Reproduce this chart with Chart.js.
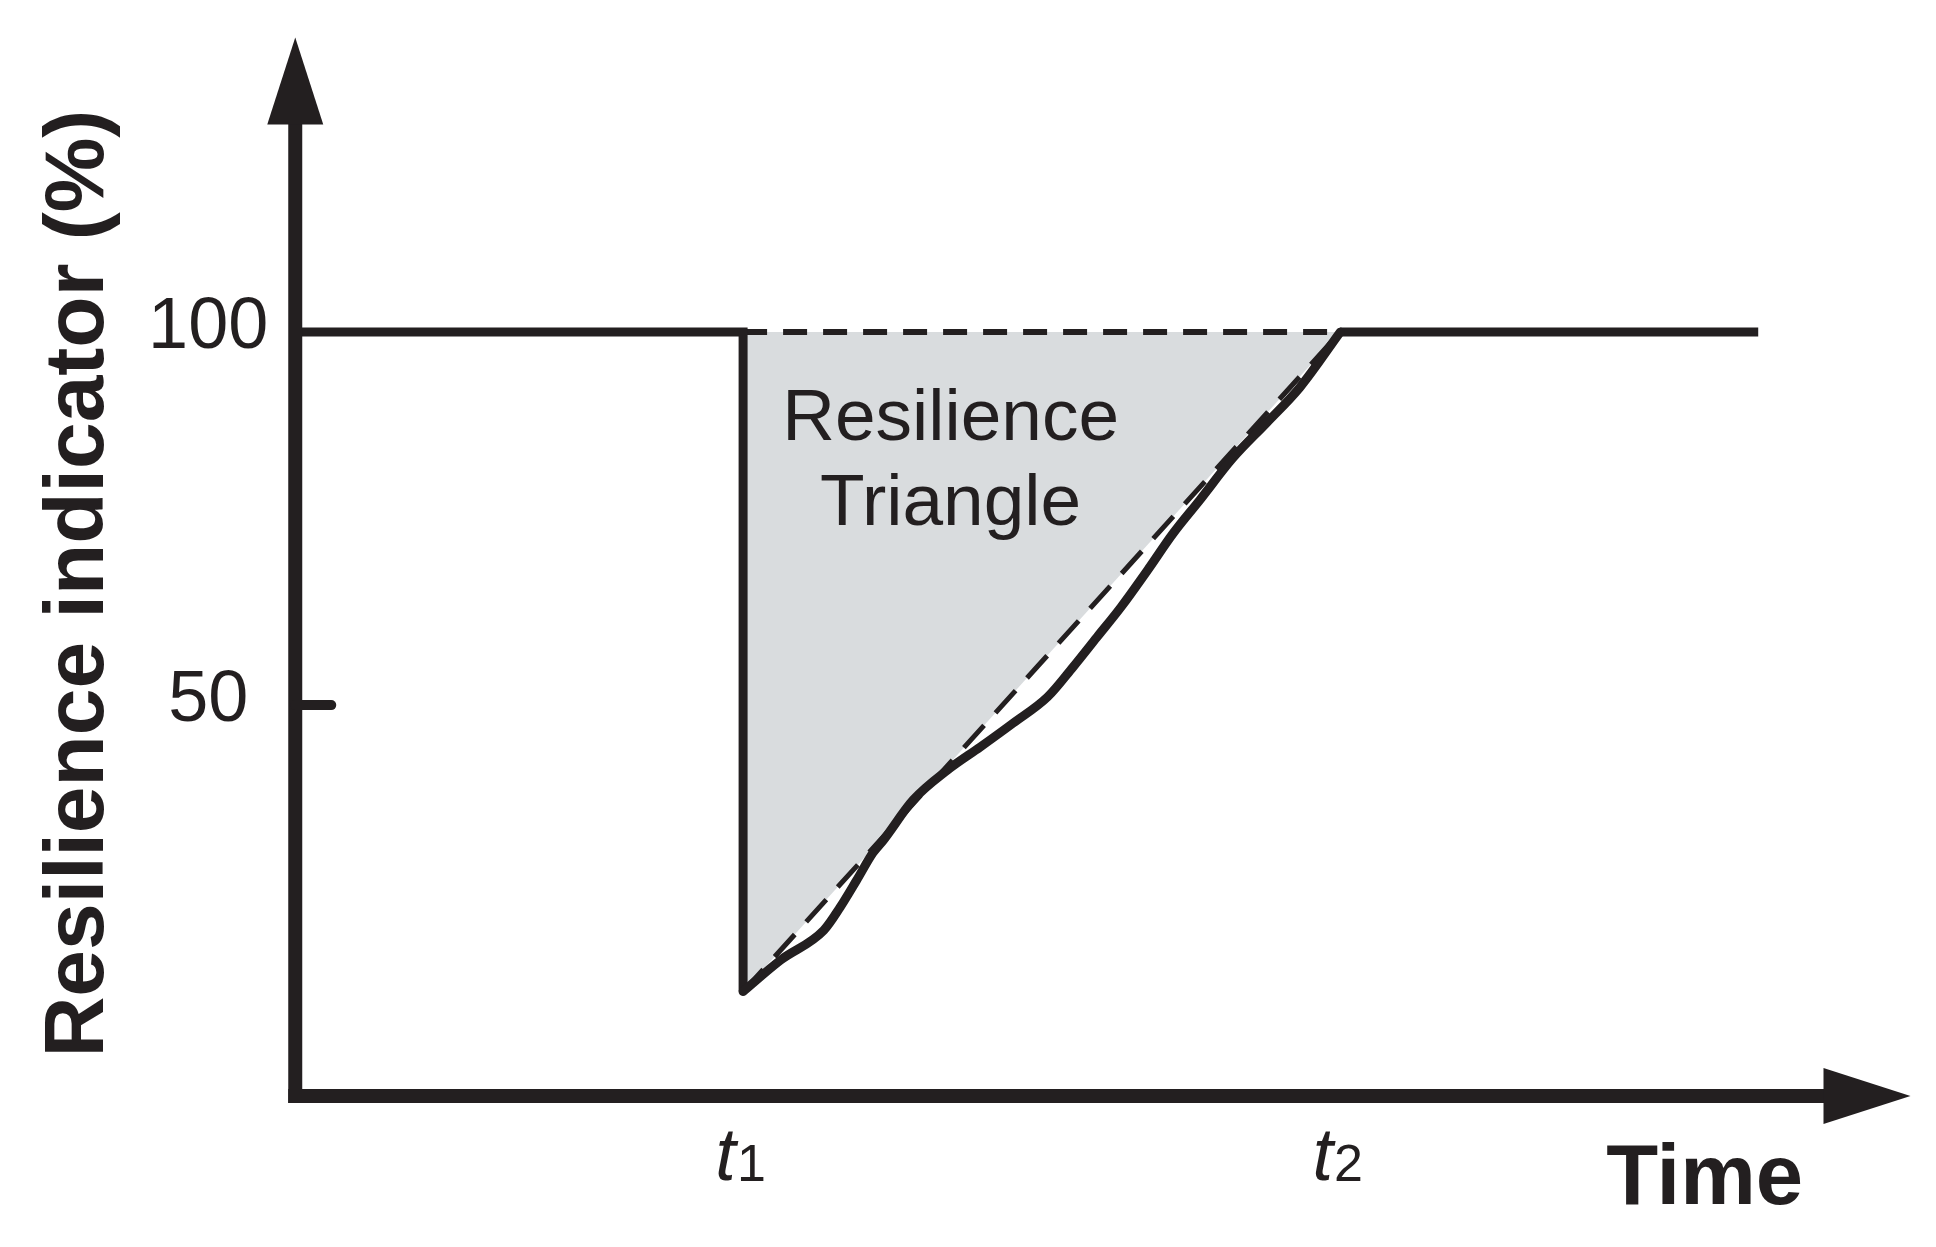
<!DOCTYPE html>
<html>
<head>
<meta charset="utf-8">
<title>Resilience Triangle</title>
<script src="https://cdn.jsdelivr.net/npm/chart.js@4.4.1/dist/chart.umd.min.js"></script>
<style>
    html, body { margin: 0; padding: 0; background: #ffffff; }
    canvas { display: block; }
</style>
</head>
<body>
<canvas id="chart" width="1936" height="1247"></canvas>
<script>
// Level before the event and the sudden drop at t1
const dropTime = [0, 30, 30];
const dropLevel = [100, 100, 11.6];

// Recovery path between t1 and t2
const recoveryTime = [30, 32.5, 35.4, 36.5, 37.6, 38.7, 39.4, 41.4, 43.7, 45.9, 48.1, 50.4, 52.1, 53.7, 55.3, 57.1, 58.8, 60.6, 62.8, 65.1, 67.3, 70];
const recoveryLevel = [11.6, 15.8, 19.8, 22.9, 26.5, 30.2, 31.9, 37.3, 41.3, 44.4, 47.6, 51.1, 55.1, 59.1, 63.1, 68.1, 73.0, 77.5, 83.1, 87.9, 92.6, 100];

// Level after full recovery
const restoredTime = [70, 98];
const restoredLevel = [100, 100];

// Dashed outline of the resilience triangle
const triangleTopTime = [30, 70];
const triangleTopLevel = [100, 100];
const triangleEdgeTime = [30, 70];
const triangleEdgeLevel = [11.6, 100];

// Axis ticks
const yTicks = [50, 100];
const xTicks = [30, 70];
const xTickSubs = ['1', '2'];

const ink = '#231f20';
const shade = '#d9dcde';
const fontFamily = '"Liberation Sans", Arial, Helvetica, sans-serif';

function toPoints(xs, ys) {
    return xs.map((v, i) => ({ x: v, y: ys[i] }));
}

// Draws arrowed axes, the 50 tick, t1/t2 labels and the triangle caption
const decorations = {
    id: 'decorations',
    afterDatasetsDraw(chart) {
        const { ctx, chartArea: area, scales: { x, y } } = chart;
        const axisW = 14;
        const headLen = 87;
        const headHalf = 28;
        const tipX = x.getPixelForValue(108.2);
        const tipY = y.getPixelForValue(139.5);

        ctx.save();
        ctx.strokeStyle = ink;
        ctx.fillStyle = ink;

        // y axis + arrow
        ctx.lineWidth = axisW;
        ctx.lineCap = 'butt';
        ctx.beginPath();
        ctx.moveTo(area.left, area.bottom + axisW / 2);
        ctx.lineTo(area.left, tipY + headLen - 2);
        ctx.stroke();
        ctx.beginPath();
        ctx.moveTo(area.left, tipY);
        ctx.lineTo(area.left - headHalf, tipY + headLen);
        ctx.lineTo(area.left + headHalf, tipY + headLen);
        ctx.closePath();
        ctx.fill();

        // x axis + arrow
        ctx.beginPath();
        ctx.moveTo(area.left - axisW / 2, area.bottom);
        ctx.lineTo(tipX - headLen + 2, area.bottom);
        ctx.stroke();
        ctx.beginPath();
        ctx.moveTo(tipX, area.bottom);
        ctx.lineTo(tipX - headLen, area.bottom - headHalf);
        ctx.lineTo(tipX - headLen, area.bottom + headHalf);
        ctx.closePath();
        ctx.fill();

        // inner tick marks on the y axis (100 is already marked by the level line)
        ctx.lineWidth = 10;
        ctx.lineCap = 'round';
        yTicks.filter(v => v < 100).forEach(v => {
            const py = y.getPixelForValue(v);
            ctx.beginPath();
            ctx.moveTo(area.left, py);
            ctx.lineTo(area.left + 36, py);
            ctx.stroke();
        });

        // t1, t2 labels with subscripts
        ctx.textBaseline = 'alphabetic';
        ctx.textAlign = 'left';
        xTicks.forEach((v, i) => {
            const px = x.getPixelForValue(v);
            const mainFont = 'italic 74px ' + fontFamily;
            const subFont = '52px ' + fontFamily;
            ctx.font = mainFont;
            const wMain = ctx.measureText('t').width;
            ctx.font = subFont;
            const wSub = ctx.measureText(xTickSubs[i]).width;
            const start = px - (wMain + wSub) / 2 - 3;
            const base = area.bottom + 84;
            ctx.font = mainFont;
            ctx.fillText('t', start, base);
            ctx.font = subFont;
            ctx.fillText(xTickSubs[i], start + wMain + 1, base + 1);
        });

        // caption inside the triangle
        ctx.font = '73px ' + fontFamily;
        ctx.textAlign = 'center';
        ctx.textBaseline = 'middle';
        const cx = x.getPixelForValue(43.9);
        ctx.fillText('Resilience', cx, y.getPixelForValue(88.3));
        ctx.fillText('Triangle', cx, y.getPixelForValue(76.8));

        ctx.restore();
    }
};

new Chart(document.getElementById('chart'), {
    type: 'scatter',
    data: {
        datasets: [
            {
                label: 'Recovery',
                data: toPoints(recoveryTime, recoveryLevel),
                showLine: true,
                borderColor: ink,
                borderWidth: 9,
                borderCapStyle: 'round',
                cubicInterpolationMode: 'monotone',
                pointRadius: 0,
                fill: false
            },
            {
                label: 'Before event',
                data: toPoints(dropTime, dropLevel),
                showLine: true,
                borderColor: ink,
                borderWidth: 9,
                borderJoinStyle: 'miter',
                pointRadius: 0,
                fill: false
            },
            {
                label: 'Restored',
                data: toPoints(restoredTime, restoredLevel),
                showLine: true,
                borderColor: ink,
                borderWidth: 9,
                pointRadius: 0,
                fill: false
            },
            {
                label: 'Triangle top',
                data: toPoints(triangleTopTime, triangleTopLevel),
                showLine: true,
                borderColor: ink,
                borderWidth: 6,
                borderDash: [24, 16],
                pointRadius: 0,
                fill: false
            },
            {
                label: 'Triangle edge',
                data: toPoints(triangleEdgeTime, triangleEdgeLevel),
                showLine: true,
                borderColor: ink,
                borderWidth: 5,
                borderDash: [30, 17],
                backgroundColor: shade,
                pointRadius: 0,
                fill: { value: 100 }
            }
        ]
    },
    options: {
        responsive: false,
        animation: false,
        devicePixelRatio: 1,
        layout: {
            padding: { left: 28, top: 71, right: 133, bottom: 20 }
        },
        plugins: {
            legend: { display: false },
            tooltip: { enabled: false }
        },
        scales: {
            x: {
                type: 'linear',
                min: 0,
                max: 101,
                grid: { display: false, drawTicks: false },
                border: { display: false },
                ticks: { display: false },
                title: {
                    display: true,
                    text: 'Time',
                    align: 'end',
                    color: ink,
                    font: { family: fontFamily, size: 85, weight: 'bold', lineHeight: 1.1 },
                    padding: { top: 37.5, bottom: 0 }
                }
            },
            y: {
                type: 'linear',
                min: -2.4,
                max: 135,
                grid: { display: false, drawTicks: false },
                border: { display: false },
                afterBuildTicks: scale => {
                    scale.ticks = yTicks.map(v => ({ value: v }));
                },
                ticks: {
                    color: ink,
                    padding: 27,
                    crossAlign: 'center',
                    labelOffset: -4,
                    font: { family: fontFamily, size: 72 },
                    callback: v => String(v)
                },
                title: {
                    display: true,
                    text: 'Resilience indicator (%)',
                    color: ink,
                    font: { family: fontFamily, size: 84, weight: 'bold', lineHeight: 0.98 },
                    padding: { top: 10.8, bottom: 0 }
                }
            }
        }
    },
    plugins: [decorations]
});
</script>
</body>
</html>
